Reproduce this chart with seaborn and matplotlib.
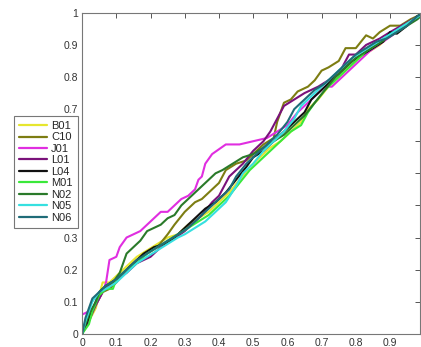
import matplotlib
matplotlib.use("Agg")
import matplotlib.pyplot as plt
import seaborn as sns
import pandas as pd

names = ["B01", "C10", "J01", "L01", "L04", "M01", "N02", "N05", "N06"]
colors = ["#e6e62e", "#7d7d12", "#e02ee0", "#7a127a", "#111111",
          "#3ae83a", "#2a7a2a", "#36e0e0", "#1f6c78"]

B01_x = [0, 0.02, 0.04, 0.06, 0.08, 0.1, 0.13, 0.16, 0.19, 0.22, 0.25, 0.28, 0.31, 0.34, 0.37, 0.4, 0.43, 0.46, 0.49, 0.52, 0.55, 0.58, 0.61, 0.64, 0.66, 0.69, 0.72, 0.75, 0.78, 0.81, 0.84, 0.87, 0.9, 0.93, 0.96, 1.0]
B01_y = [0, 0.04, 0.08, 0.16, 0.16, 0.18, 0.21, 0.24, 0.26, 0.28, 0.30, 0.31, 0.34, 0.36, 0.38, 0.41, 0.44, 0.48, 0.52, 0.55, 0.58, 0.60, 0.63, 0.66, 0.70, 0.73, 0.77, 0.80, 0.83, 0.86, 0.88, 0.90, 0.93, 0.95, 0.97, 1.0]

C10_x = [0, 0.02, 0.04, 0.06, 0.08, 0.1, 0.13, 0.16, 0.19, 0.22, 0.25, 0.27, 0.3, 0.33, 0.35, 0.38, 0.4, 0.42, 0.45, 0.48, 0.5, 0.53, 0.56, 0.57, 0.59, 0.61, 0.63, 0.66, 0.68, 0.7, 0.72, 0.75, 0.77, 0.8, 0.83, 0.85, 0.87, 0.9, 0.93, 0.96, 1.0]
C10_y = [0, 0.05, 0.09, 0.13, 0.14, 0.16, 0.2, 0.23, 0.25, 0.27, 0.31, 0.34, 0.38, 0.41, 0.42, 0.45, 0.47, 0.51, 0.53, 0.54, 0.56, 0.59, 0.61, 0.66, 0.72, 0.73, 0.755, 0.77, 0.79, 0.82, 0.83, 0.85, 0.89, 0.89, 0.93, 0.92, 0.94, 0.96, 0.96, 0.98, 1.0]

J01_x = [0, 0.02, 0.04, 0.06, 0.07, 0.08, 0.1, 0.11, 0.13, 0.15, 0.17, 0.19, 0.21, 0.23, 0.25, 0.27, 0.29, 0.31, 0.33, 0.34, 0.35, 0.36, 0.38, 0.42, 0.46, 0.5, 0.54, 0.57, 0.6, 0.63, 0.66, 0.69, 0.71, 0.73, 0.76, 0.8, 0.84, 0.88, 0.92, 0.96, 1.0]
J01_y = [0.06, 0.07, 0.09, 0.13, 0.16, 0.23, 0.24, 0.27, 0.30, 0.31, 0.32, 0.34, 0.36, 0.38, 0.38, 0.40, 0.42, 0.43, 0.45, 0.48, 0.49, 0.53, 0.56, 0.59, 0.59, 0.60, 0.61, 0.63, 0.65, 0.69, 0.72, 0.75, 0.77, 0.77, 0.80, 0.84, 0.88, 0.91, 0.94, 0.97, 1.0]

L01_x = [0, 0.02, 0.04, 0.06, 0.08, 0.1, 0.13, 0.16, 0.2, 0.23, 0.26, 0.3, 0.33, 0.35, 0.38, 0.4, 0.43, 0.47, 0.5, 0.53, 0.55, 0.57, 0.59, 0.62, 0.65, 0.69, 0.72, 0.75, 0.78, 0.8, 0.83, 0.87, 0.9, 0.95, 1.0]
L01_y = [0, 0.04, 0.09, 0.13, 0.15, 0.17, 0.19, 0.22, 0.24, 0.27, 0.29, 0.32, 0.35, 0.37, 0.41, 0.43, 0.49, 0.53, 0.57, 0.60, 0.63, 0.67, 0.71, 0.73, 0.75, 0.77, 0.79, 0.81, 0.87, 0.87, 0.90, 0.92, 0.94, 0.97, 1.0]

L04_x = [0, 0.02, 0.04, 0.05, 0.07, 0.1, 0.12, 0.15, 0.18, 0.21, 0.24, 0.27, 0.3, 0.33, 0.36, 0.39, 0.42, 0.45, 0.48, 0.5, 0.53, 0.56, 0.59, 0.62, 0.65, 0.67, 0.7, 0.73, 0.76, 0.79, 0.82, 0.85, 0.88, 0.9, 0.92, 0.95, 0.98, 1.0]
L04_y = [0, 0.05, 0.1, 0.13, 0.15, 0.17, 0.19, 0.22, 0.25, 0.27, 0.28, 0.30, 0.33, 0.36, 0.39, 0.41, 0.44, 0.48, 0.52, 0.55, 0.57, 0.60, 0.63, 0.66, 0.69, 0.73, 0.76, 0.79, 0.82, 0.85, 0.87, 0.89, 0.91, 0.94, 0.935, 0.96, 0.99, 1.0]

M01_x = [0, 0.02, 0.03, 0.05, 0.07, 0.09, 0.1, 0.13, 0.16, 0.19, 0.22, 0.25, 0.28, 0.31, 0.34, 0.37, 0.4, 0.43, 0.46, 0.49, 0.52, 0.55, 0.58, 0.61, 0.64, 0.66, 0.68, 0.71, 0.74, 0.77, 0.8, 0.83, 0.86, 0.9, 0.94, 0.97, 1.0]
M01_y = [0, 0.03, 0.07, 0.12, 0.14, 0.14, 0.17, 0.20, 0.22, 0.25, 0.27, 0.29, 0.31, 0.33, 0.35, 0.37, 0.40, 0.43, 0.47, 0.51, 0.54, 0.57, 0.60, 0.63, 0.65, 0.69, 0.72, 0.76, 0.79, 0.82, 0.85, 0.88, 0.90, 0.93, 0.96, 0.98, 1.0]

N02_x = [0, 0.02, 0.04, 0.05, 0.07, 0.09, 0.11, 0.13, 0.15, 0.17, 0.19, 0.21, 0.23, 0.25, 0.27, 0.29, 0.31, 0.33, 0.35, 0.37, 0.39, 0.41, 0.44, 0.47, 0.5, 0.53, 0.56, 0.59, 0.62, 0.65, 0.68, 0.71, 0.74, 0.77, 0.8, 0.83, 0.86, 0.89, 0.92, 0.95, 0.98, 1.0]
N02_y = [0, 0.06, 0.10, 0.13, 0.15, 0.16, 0.19, 0.25, 0.27, 0.29, 0.32, 0.33, 0.34, 0.36, 0.37, 0.40, 0.42, 0.44, 0.46, 0.48, 0.50, 0.51, 0.53, 0.55, 0.56, 0.58, 0.60, 0.62, 0.65, 0.68, 0.72, 0.76, 0.80, 0.83, 0.86, 0.88, 0.90, 0.92, 0.94, 0.96, 0.98, 1.0]

N05_x = [0, 0.01, 0.03, 0.05, 0.07, 0.1, 0.13, 0.16, 0.19, 0.22, 0.25, 0.28, 0.3, 0.33, 0.36, 0.39, 0.42, 0.45, 0.47, 0.5, 0.53, 0.56, 0.59, 0.62, 0.64, 0.67, 0.7, 0.73, 0.76, 0.79, 0.82, 0.85, 0.88, 0.91, 0.94, 0.97, 1.0]
N05_y = [0, 0.04, 0.10, 0.13, 0.14, 0.16, 0.19, 0.22, 0.24, 0.26, 0.28, 0.30, 0.31, 0.33, 0.35, 0.38, 0.41, 0.46, 0.50, 0.53, 0.57, 0.60, 0.63, 0.67, 0.71, 0.74, 0.77, 0.80, 0.83, 0.86, 0.88, 0.90, 0.92, 0.94, 0.96, 0.98, 1.0]

N06_x = [0, 0.01, 0.03, 0.05, 0.07, 0.1, 0.13, 0.16, 0.19, 0.22, 0.25, 0.28, 0.31, 0.34, 0.37, 0.4, 0.43, 0.45, 0.48, 0.51, 0.54, 0.57, 0.6, 0.62, 0.65, 0.68, 0.71, 0.74, 0.77, 0.8, 0.83, 0.86, 0.89, 0.92, 0.95, 0.98, 1.0]
N06_y = [0, 0.05, 0.11, 0.13, 0.15, 0.17, 0.20, 0.23, 0.25, 0.27, 0.29, 0.31, 0.33, 0.36, 0.39, 0.42, 0.45, 0.49, 0.53, 0.56, 0.59, 0.62, 0.66, 0.70, 0.73, 0.76, 0.78, 0.81, 0.84, 0.87, 0.89, 0.91, 0.92, 0.94, 0.96, 0.99, 1.0]

series_x = [B01_x, C10_x, J01_x, L01_x, L04_x, M01_x, N02_x, N05_x, N06_x]
series_y = [B01_y, C10_y, J01_y, L01_y, L04_y, M01_y, N02_y, N05_y, N06_y]

xticks = [0, 0.1, 0.2, 0.3, 0.4, 0.5, 0.6, 0.7, 0.8, 0.9]
xticklabels = ["0", "0.1", "0.2", "0.3", "0.4", "0.5", "0.6", "0.7", "0.8", "0.9"]
yticks = [0, 0.1, 0.2, 0.3, 0.4, 0.5, 0.6, 0.7, 0.8, 0.9, 1.0]
yticklabels = ["0", "0.1", "0.2", "0.3", "0.4", "0.5", "0.6", "0.7", "0.8", "0.9", "1"]

rows = []
for n, xs, ys in zip(names, series_x, series_y):
    for i, (a, b) in enumerate(zip(xs, ys)):
        rows.append({"name": n, "x": a, "y": b, "order": i})
df = pd.DataFrame(rows)

sns.set_theme(style="white")
plt.rcParams["font.family"] = ["Liberation Sans", "DejaVu Sans"]

fig = plt.figure(figsize=(4.21, 3.47), dpi=100)
ax = fig.add_axes([0.195, 0.038, 0.803, 0.925])

sns.lineplot(data=df, x="x", y="y", hue="name", hue_order=names,
             palette=dict(zip(names, colors)), sort=False, estimator=None,
             linewidth=1.5, ax=ax, legend=False)

ax.set_xlim(0, 0.988)
ax.set_ylim(0, 1)
ax.set_xticks(xticks)
ax.set_xticklabels(xticklabels)
ax.set_yticks(yticks)
ax.set_yticklabels(yticklabels)
ax.set_xlabel("")
ax.set_ylabel("")
ax.tick_params(direction="in", length=3.5, width=0.7, colors="#555555",
               labelcolor="#333333", labelsize=7.5, top=True, right=True,
               pad=3)
for s in ax.spines.values():
    s.set_color("#777777")
    s.set_linewidth(0.8)

handles = [plt.Line2D([], [], color=c, lw=1.6) for c in colors]
leg = ax.legend(handles, names, loc="upper left",
                bbox_to_anchor=(14 / 421, 1 - 116 / 347),
                bbox_transform=fig.transFigure, fontsize=8,
                frameon=True, fancybox=False, framealpha=1,
                edgecolor="#777777", handlelength=2.5, handletextpad=0.4,
                labelspacing=0.13, borderpad=0.45, borderaxespad=0)
leg.get_frame().set_linewidth(0.8)
leg.set_zorder(10)

fig.savefig("out.png", dpi=100)
